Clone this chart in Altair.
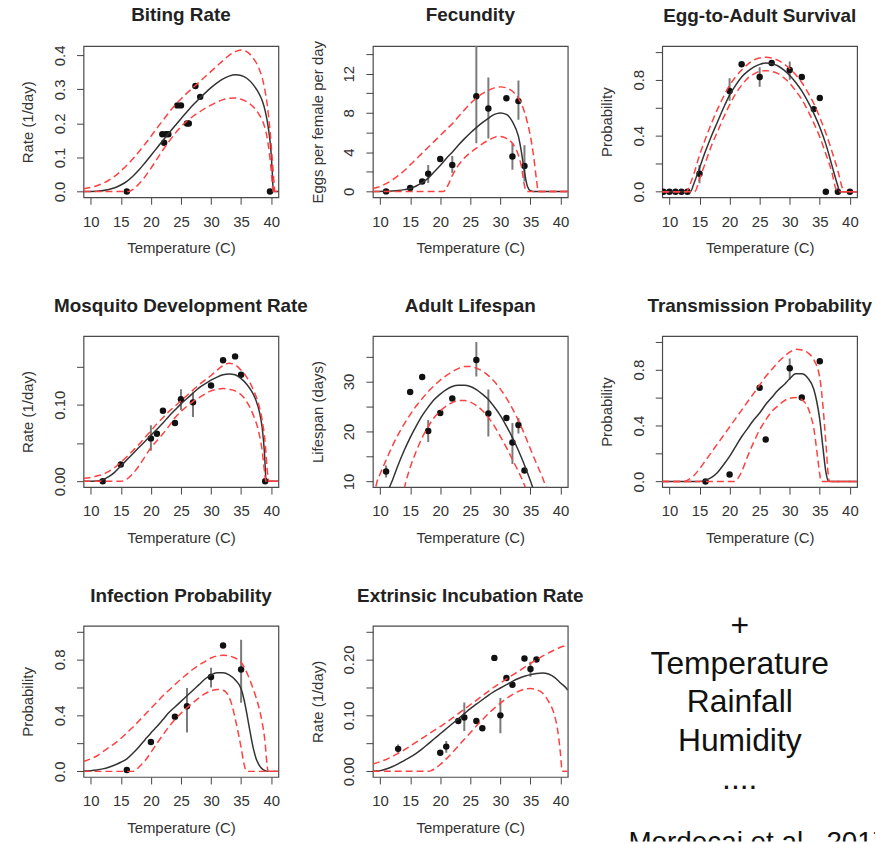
import altair as alt
import pandas as pd

FONT = "Liberation Sans"
INK = "#333333"
RED = "#ff4040"
NAN = float("nan")

TEMP_TICKS = [10, 15, 20, 25, 30, 35, 40]
TEMP_DOMAIN = [8.8, 41.2]

# ---- Biting rate -----------------------------------------------------------
BITE_OBS = [(16, 0.0), (21.9, 0.168), (22.5, 0.168), (22.9, 0.168), (22.2, 0.143),
            (24.4, 0.253), (25.0, 0.253), (26.0, 0.2), (26.3, 0.2), (27.4, 0.31),
            (28.2, 0.278), (39.8, 0.0)]
BITE_MEAN = [(8.8, 0.0), (11, 0.001), (13, 0.006), (14, 0.011), (15, 0.019), (16, 0.03),
             (17, 0.045), (18, 0.063), (19, 0.084), (20, 0.106), (21, 0.128), (22, 0.15),
             (23, 0.172), (24, 0.193), (25, 0.214), (26, 0.234), (27, 0.254), (28, 0.272),
             (29, 0.289), (30, 0.305), (31, 0.319), (32, 0.331), (33, 0.339), (34, 0.343),
             (35, 0.341), (36, 0.332), (37, 0.314), (38, 0.287), (38.5, 0.267), (39, 0.237),
             (39.5, 0.19), (40, 0.11), (40.2, 0.05), (40.35, 0.0), (41.2, 0.0)]
BITE_UPPER = [(8.8, 0.008), (10, 0.012), (11, 0.017), (12, 0.024), (13, 0.033), (14, 0.045),
              (15, 0.06), (16, 0.077), (17, 0.096), (18, 0.117), (19, 0.139), (20, 0.162),
              (21, 0.186), (22, 0.209), (23, 0.232), (24, 0.254), (25, 0.272), (26, 0.289),
              (27, 0.305), (28, 0.321), (29, 0.337), (30, 0.353), (31, 0.369), (32, 0.385),
              (33, 0.4), (34, 0.411), (35, 0.416), (36, 0.41), (37, 0.392), (38, 0.36),
              (38.7, 0.32), (39.3, 0.26), (39.8, 0.18), (40.2, 0.09), (40.5, 0.02),
              (40.6, 0.0), (41.2, 0.0)]
BITE_LOWER = [(8.8, 0.0), (16.3, 0.0), (17, 0.006), (18, 0.022), (19, 0.043), (20, 0.068),
              (21, 0.095), (22, 0.122), (23, 0.147), (24, 0.17), (25, 0.19), (26, 0.207),
              (27, 0.221), (28, 0.233), (29, 0.244), (30, 0.254), (31, 0.263), (32, 0.27),
              (33, 0.274), (34, 0.275), (35, 0.271), (36, 0.263), (37, 0.249), (38, 0.226),
              (38.8, 0.196), (39.4, 0.15), (39.9, 0.08), (40.2, 0.02), (40.3, 0.0),
              (41.2, 0.0)]

# ---- Fecundity -------------------------------------------------------------
FEC_OBS = [(11, 0.0), (15, 0.34), (17, 1.0), (18, 1.8, 0.85, 2.7), (20, 3.3),
           (22, 2.7, 1.9, 3.6), (26, 9.7, 4.9, 15.0), (28, 8.45, 5.4, 11.6), (31, 9.5),
           (32, 3.55, 2.2, 4.9), (33, 9.2, 7.3, 11.3), (34, 2.6, 1.0, 4.7)]
FEC_MEAN = [(8.8, 0.0), (11, 0.02), (12, 0.05), (13, 0.1), (14, 0.18), (15, 0.3), (16, 0.55),
            (17, 0.9), (18, 1.35), (19, 2.0), (20, 2.65), (21, 3.35), (22, 4.0), (23, 4.7),
            (24, 5.35), (25, 5.95), (26, 6.5), (27, 7.0), (28, 7.45), (29, 7.85), (30, 8.0),
            (31, 7.85), (32, 7.1), (33, 5.6), (33.5, 4.0), (34, 2.0), (34.5, 0.5),
            (35, 0.08), (35.5, 0.0), (41.2, 0.0)]
FEC_UPPER = [(8.8, 0.3), (10, 0.5), (11, 0.8), (12, 1.15), (13, 1.6), (14, 2.1), (15, 2.7),
             (16, 3.3), (17, 3.9), (18, 4.5), (19, 5.1), (20, 5.7), (21, 6.3), (22, 6.9),
             (23, 7.6), (24, 8.3), (25, 8.95), (26, 9.5), (27, 9.95), (28, 10.3), (29, 10.55),
             (30, 10.65), (31, 10.55), (32, 10.2), (33, 9.5), (34, 8.1), (34.5, 7.0),
             (35, 5.6), (35.5, 3.7), (36, 1.2), (36.3, 0.0), (41.2, 0.0)]
FEC_LOWER = [(8.8, 0.0), (20.5, 0.0), (21, 0.3), (21.5, 0.9), (22, 1.6), (23, 2.65), (24, 3.4),
             (25, 3.95), (26, 4.4), (27, 4.85), (28, 5.2), (29, 5.5), (29.5, 5.6), (30, 5.6),
             (31, 5.4), (32, 4.9), (32.5, 4.4), (33, 3.7), (33.5, 2.5), (34, 0.6),
             (34.3, 0.0), (41.2, 0.0)]

# ---- Egg-to-adult survival -------------------------------------------------
EGG_OBS = [(9, 0.0), (10, 0.0), (11, 0.0), (12, 0.0), (13, 0.0), (15, 0.128, 0.06, 0.19),
           (20, 0.72, 0.65, 0.81), (22, 0.91), (25, 0.82, 0.75, 0.89), (27, 0.92),
           (30, 0.87, 0.8, 0.93), (32, 0.82), (34, 0.59), (35, 0.67), (36, 0.0),
           (38, 0.0), (40, 0.0)]
EGG_MEAN = [(8.8, 0.0), (13.5, 0.0), (14, 0.05), (15, 0.17), (16, 0.29), (17, 0.4), (18, 0.5),
            (19, 0.6), (20, 0.69), (21, 0.76), (22, 0.82), (23, 0.86), (24, 0.89), (25, 0.91),
            (26, 0.92), (27, 0.915), (28, 0.9), (29, 0.87), (30, 0.83), (31, 0.78), (32, 0.72),
            (33, 0.645), (34, 0.56), (35, 0.46), (36, 0.34), (37, 0.19), (38, 0.04),
            (38.3, 0.0), (41.2, 0.0)]
EGG_UPPER = [(8.8, 0.0), (12.8, 0.0), (13.5, 0.06), (14, 0.12), (15, 0.26), (16, 0.38),
             (17, 0.49), (18, 0.59), (19, 0.68), (20, 0.76), (21, 0.82), (22, 0.87), (23, 0.91),
             (24, 0.94), (25, 0.955), (26, 0.96), (27, 0.955), (28, 0.94), (29, 0.915),
             (30, 0.88), (31, 0.835), (32, 0.78), (33, 0.71), (34, 0.63), (35, 0.53),
             (36, 0.42), (37, 0.29), (38, 0.15), (38.8, 0.02), (39.1, 0.0), (41.2, 0.0)]
EGG_LOWER = [(8.8, 0.0), (14.2, 0.0), (15, 0.09), (16, 0.21), (17, 0.33), (18, 0.43),
             (19, 0.53), (20, 0.62), (21, 0.7), (22, 0.76), (23, 0.81), (24, 0.84), (25, 0.86),
             (26, 0.865), (27, 0.86), (28, 0.845), (29, 0.815), (30, 0.775), (31, 0.72),
             (32, 0.66), (33, 0.58), (34, 0.49), (35, 0.39), (36, 0.27), (37, 0.14),
             (37.6, 0.03), (37.9, 0.0), (41.2, 0.0)]

# ---- Mosquito development rate ---------------------------------------------
MDR_OBS = [(12, 0.0), (15, 0.022), (20, 0.056, 0.04, 0.073), (21, 0.062), (22, 0.092),
           (24, 0.076), (25, 0.107, 0.093, 0.12), (27, 0.103, 0.084, 0.116), (30, 0.125),
           (32, 0.158), (34, 0.163), (35, 0.139), (39, 0.0)]
MDR_MEAN = [(8.8, 0.0), (11, 0.0005), (12, 0.002), (13, 0.006), (14, 0.012), (15, 0.02),
            (16, 0.028), (17, 0.036), (18, 0.044), (19, 0.052), (20, 0.06), (21, 0.068),
            (22, 0.076), (23, 0.085), (24, 0.093), (25, 0.101), (26, 0.108), (27, 0.115),
            (28, 0.122), (29, 0.127), (30, 0.132), (31, 0.136), (32, 0.139), (33, 0.14),
            (34, 0.139), (35, 0.134), (36, 0.126), (37, 0.114), (37.5, 0.105), (38, 0.092),
            (38.5, 0.07), (38.9, 0.035), (39.1, 0.005), (39.2, 0.0), (41.2, 0.0)]
MDR_UPPER = [(8.8, 0.004), (10, 0.005), (11, 0.007), (12, 0.009), (13, 0.013), (14, 0.018),
             (15, 0.025), (16, 0.032), (17, 0.04), (18, 0.048), (19, 0.057), (20, 0.066),
             (21, 0.075), (22, 0.083), (23, 0.091), (24, 0.098), (25, 0.105), (26, 0.112),
             (27, 0.119), (28, 0.126), (29, 0.132), (30, 0.138), (31, 0.145), (32, 0.151),
             (33, 0.154), (34, 0.152), (35, 0.145), (36, 0.135), (37, 0.12), (38, 0.098),
             (38.5, 0.08), (39, 0.05), (39.4, 0.01), (39.6, 0.0), (41.2, 0.0)]
MDR_LOWER = [(8.8, 0.0), (15, 0.0), (16, 0.003), (17, 0.01), (18, 0.02), (19, 0.032),
             (20, 0.044), (21, 0.053), (22, 0.062), (23, 0.072), (24, 0.083), (25, 0.091),
             (26, 0.098), (27, 0.104), (28, 0.109), (29, 0.114), (30, 0.118), (31, 0.12),
             (32, 0.121), (33, 0.12), (34, 0.118), (35, 0.113), (36, 0.103), (37, 0.087),
             (38, 0.062), (38.5, 0.04), (38.9, 0.012), (39.1, 0.0), (41.2, 0.0)]

# ---- Adult lifespan --------------------------------------------------------
LF_OBS = [(11, 12.0, 10.8, 13.2), (15, 27.9), (17, 30.9), (18, 20.1, 17.9, 22.3), (20, 23.7),
          (22, 26.6), (26, 34.3, 31.0, 37.9), (28, 23.6, 19.0, 28.4), (31, 22.7),
          (32, 17.8, 13.5, 21.7), (33, 21.3, 19.6, 22.7), (34, 12.2)]
LF_MEAN = [(11.5, 8.7), (12, 10.1), (13, 13.3), (14, 16.2), (15, 18.8), (16, 21.1), (17, 23.2),
           (18, 24.9), (19, 26.4), (20, 27.5), (21, 28.4), (22, 29.0), (23, 29.25),
           (24, 29.25), (25, 29.0), (26, 28.4), (27, 27.5), (28, 26.4), (29, 24.9), (30, 23.2),
           (31, 21.1), (32, 18.8), (33, 16.2), (34, 13.3), (35, 10.1), (35.5, 8.4)]
LF_UPPER = [(9.3, 9.0), (9.5, 10.0), (10, 11.5), (11, 14.3), (12, 17.0), (13, 19.4), (14, 21.5),
            (15, 23.4), (16, 25.1), (17, 26.6), (18, 28.0), (19, 29.2), (20, 30.3), (21, 31.2),
            (22, 32.0), (23, 32.6), (24, 33.0), (25, 33.0), (26, 32.7), (27, 32.1), (28, 31.2),
            (29, 30.0), (30, 28.5), (31, 26.7), (32, 24.6), (33, 22.2), (34, 19.5), (35, 16.5),
            (36, 13.6), (37, 10.8), (37.6, 8.8)]
LF_LOWER = [(14, 8.5), (14.3, 10.0), (15, 12.8), (16, 16.0), (17, 18.8), (18, 21.0), (19, 22.8),
            (20, 24.1), (21, 25.1), (22, 25.8), (23, 26.2), (24, 26.2), (25, 25.9), (26, 25.2),
            (27, 24.2), (28, 22.8), (29, 21.1), (30, 19.0), (31, 16.8), (32, 14.4), (33, 12.0),
            (34, 9.3), (34.3, 8.3)]

# ---- Transmission probability ----------------------------------------------
TR_OBS = [(16, 0.0), (20, 0.05), (25, 0.67), (26, 0.3), (30, 0.81, 0.73, 0.88), (32, 0.6),
          (35, 0.86)]
TR_MEAN = [(8.8, 0.0), (15, 0.0), (16, 0.01), (17, 0.03), (18, 0.065), (19, 0.12), (20, 0.18),
           (21, 0.25), (22, 0.32), (23, 0.38), (24, 0.44), (25, 0.49), (26, 0.55), (27, 0.6),
           (28, 0.65), (29, 0.69), (30, 0.735), (31, 0.77), (32, 0.77), (33, 0.74), (34, 0.66),
           (34.5, 0.57), (35, 0.44), (35.5, 0.25), (36, 0.07), (36.4, 0.005), (37, 0.0),
           (41.2, 0.0)]
TR_UPPER = [(8.8, 0.0), (12.5, 0.0), (13, 0.01), (14, 0.04), (15, 0.09), (16, 0.15), (17, 0.21),
            (18, 0.27), (19, 0.33), (20, 0.39), (21, 0.45), (22, 0.51), (23, 0.57), (24, 0.63),
            (25, 0.69), (26, 0.75), (27, 0.8), (28, 0.85), (29, 0.89), (30, 0.925), (31, 0.945),
            (32, 0.94), (33, 0.92), (34, 0.87), (35, 0.74), (35.5, 0.55), (36, 0.28),
            (36.4, 0.05), (36.6, 0.0), (41.2, 0.0)]
TR_LOWER = [(8.8, 0.0), (20.8, 0.0), (21.5, 0.03), (22, 0.07), (23, 0.18), (24, 0.28),
            (25, 0.37), (26, 0.44), (27, 0.5), (28, 0.54), (29, 0.575), (30, 0.595), (31, 0.6),
            (32, 0.585), (33, 0.53), (33.5, 0.47), (34, 0.38), (34.5, 0.22), (35, 0.05),
            (35.2, 0.0), (41.2, 0.0)]

# ---- Infection probability -------------------------------------------------
INF_OBS = [(16, 0.01), (20, 0.21), (24, 0.39), (26, 0.465, 0.277, 0.595),
           (30, 0.675, 0.6, 0.74), (32, 0.9), (35, 0.728, 0.49, 0.94)]
INF_MEAN = [(8.8, 0.002), (10, 0.005), (11, 0.01), (12, 0.018), (13, 0.03), (14, 0.046),
            (15, 0.065), (16, 0.09), (17, 0.13), (18, 0.175), (19, 0.225), (20, 0.275),
            (21, 0.32), (22, 0.37), (23, 0.42), (24, 0.46), (25, 0.5), (26, 0.54), (27, 0.58),
            (28, 0.62), (29, 0.66), (30, 0.69), (31, 0.705), (32, 0.705), (33, 0.69),
            (34, 0.655), (35, 0.59), (35.5, 0.51), (36, 0.4), (36.5, 0.28), (37, 0.17),
            (37.5, 0.09), (38, 0.045), (38.5, 0.018), (39, 0.005), (39.5, 0.0), (41.2, 0.0)]
INF_UPPER = [(8.8, 0.07), (10, 0.09), (11, 0.11), (12, 0.14), (13, 0.17), (14, 0.2), (15, 0.235),
             (16, 0.275), (17, 0.315), (18, 0.36), (19, 0.405), (20, 0.45), (21, 0.495),
             (22, 0.54), (23, 0.58), (24, 0.62), (25, 0.66), (26, 0.695), (27, 0.73), (28, 0.76),
             (29, 0.785), (30, 0.81), (31, 0.825), (32, 0.83), (33, 0.825), (34, 0.81),
             (35, 0.78), (36, 0.7), (37, 0.59), (38, 0.45), (38.5, 0.35), (39, 0.2),
             (39.3, 0.05), (39.5, 0.0), (41.2, 0.0)]
INF_LOWER = [(8.8, 0.0), (17, 0.0), (17.5, 0.01), (18, 0.03), (19, 0.075), (20, 0.135),
             (21, 0.2), (22, 0.26), (23, 0.32), (24, 0.37), (25, 0.415), (26, 0.455), (27, 0.49),
             (28, 0.525), (29, 0.555), (30, 0.575), (31, 0.585), (32, 0.58), (33, 0.53),
             (33.5, 0.47), (34, 0.38), (34.5, 0.28), (35, 0.17), (35.5, 0.05), (35.9, 0.0),
             (41.2, 0.0)]

# ---- Extrinsic incubation rate ---------------------------------------------
EIR_OBS = [(13, 0.04, 0.033, 0.048), (20, 0.033), (21, 0.044, 0.033, 0.054), (23, 0.09),
           (24, 0.096, 0.072, 0.123), (26, 0.09), (27, 0.077), (29, 0.203),
           (30, 0.1, 0.068, 0.131), (31, 0.167), (32, 0.155), (34, 0.202),
           (35, 0.183, 0.169, 0.196), (36, 0.2)]
EIR_MEAN = [(8.8, 0.0), (10, 0.001), (11, 0.004), (12, 0.008), (13, 0.013), (14, 0.019),
            (15, 0.025), (16, 0.032), (17, 0.04), (18, 0.049), (19, 0.058), (20, 0.067),
            (21, 0.076), (22, 0.085), (23, 0.094), (24, 0.103), (25, 0.112), (26, 0.12),
            (27, 0.128), (28, 0.136), (29, 0.143), (30, 0.149), (31, 0.155), (32, 0.161),
            (33, 0.166), (34, 0.17), (35, 0.173), (36, 0.175), (37, 0.176), (38, 0.174),
            (39, 0.168), (40, 0.158), (41, 0.148), (41.2, 0.145)]
EIR_UPPER = [(8.8, 0.013), (10, 0.017), (11, 0.021), (12, 0.026), (13, 0.032), (14, 0.038),
             (15, 0.045), (16, 0.052), (17, 0.059), (18, 0.066), (19, 0.073), (20, 0.08),
             (21, 0.087), (22, 0.095), (23, 0.103), (24, 0.111), (25, 0.119), (26, 0.127),
             (27, 0.135), (28, 0.143), (29, 0.151), (30, 0.158), (31, 0.165), (32, 0.172),
             (33, 0.179), (34, 0.186), (35, 0.193), (36, 0.2), (37, 0.206), (38, 0.212),
             (39, 0.217), (40, 0.222), (41, 0.226), (41.2, 0.227)]
EIR_LOWER = [(8.8, 0.0), (18, 0.0), (18.5, 0.001), (19, 0.004), (20, 0.012), (21, 0.022),
             (22, 0.033), (23, 0.045), (24, 0.057), (25, 0.069), (26, 0.081), (27, 0.092),
             (28, 0.103), (29, 0.113), (30, 0.122), (31, 0.13), (32, 0.137), (33, 0.143),
             (34, 0.147), (35, 0.148), (36, 0.146), (37, 0.14), (38, 0.125), (39, 0.1),
             (39.5, 0.075), (40, 0.03), (40.2, 0.005), (40.3, 0.0), (41.2, 0.0)]

# ---- Side note ------------------------------------------------------------
NOTE_LINES = ["+", "Temperature", "Rainfall", "Humidity", "...."]
NOTE_SOURCE = "Mordecai et al., 2017"

PLOT_W, PLOT_H = 196, 152


def label_expr(shown, fmt):
    cond = " || ".join(f"abs(datum.value - ({v})) < 1e-9" for v in shown)
    return f"({cond}) ? format(datum.value, '{fmt}') : ''"


def panel(title, ytitle, ydomain, yticks, ylabeled, yfmt, mean, upper, lower, obs,
          title_offset=5):
    rows = ([(t, v, "mean") for t, v in mean]
            + [(t, v, "upper") for t, v in upper]
            + [(t, v, "lower") for t, v in lower])
    curves = pd.DataFrame(rows, columns=["temp", "value", "curve"])
    pts = pd.DataFrame([o if len(o) == 4 else (o[0], o[1], NAN, NAN) for o in obs],
                       columns=["temp", "value", "lo", "hi"])

    xscale = alt.Scale(domain=TEMP_DOMAIN, nice=False, zero=False)
    yscale = alt.Scale(domain=ydomain, nice=False, zero=False)
    xaxis = alt.Axis(values=TEMP_TICKS, title="Temperature (C)")
    yaxis = alt.Axis(values=yticks, title=ytitle, labelExpr=label_expr(ylabeled, yfmt),
                     titleLimit=400)
    x = alt.X("temp:Q", scale=xscale, axis=xaxis)

    bars = alt.Chart(pts).transform_filter("isValid(datum.lo)").mark_rule(
        color="#7a7a7a", strokeWidth=2, clip=True
    ).encode(x=x, y=alt.Y("lo:Q", scale=yscale, axis=yaxis), y2="hi:Q")

    dots = alt.Chart(pts).mark_circle(size=42, color="#111111", opacity=1, clip=True).encode(
        x=x, y=alt.Y("value:Q", scale=yscale, axis=yaxis)
    )

    mean_line = alt.Chart(curves).transform_filter("datum.curve == 'mean'").mark_line(
        color=INK, strokeWidth=1.5, interpolate="monotone", clip=True
    ).encode(x=x, y=alt.Y("value:Q", scale=yscale, axis=yaxis))

    ci_lines = alt.Chart(curves).transform_filter("datum.curve != 'mean'").mark_line(
        color=RED, strokeWidth=1.5, strokeDash=[7, 4], interpolate="monotone", clip=True
    ).encode(x=x, y=alt.Y("value:Q", scale=yscale, axis=yaxis), detail="curve:N")

    return alt.layer(bars, dots, mean_line, ci_lines).properties(
        width=PLOT_W, height=PLOT_H,
        title=alt.Title(title, fontSize=19, font=FONT, fontWeight="bold", color="#222222",
                        anchor="middle", frame="group", offset=title_offset,
                        baseline="alphabetic"),
    )


PROB_DOMAIN = [-0.04, 1.04]
PROB_TICKS = [0, 0.2, 0.4, 0.6, 0.8, 1.0]
PROB_LABELS = [0, 0.4, 0.8]

p1 = panel("Biting Rate", "Rate (1/day)", [-0.017, 0.427], [0, 0.1, 0.2, 0.3, 0.4],
           [0, 0.1, 0.2, 0.3, 0.4], ".1f", BITE_MEAN, BITE_UPPER, BITE_LOWER, BITE_OBS)
# the long y title of this panel reaches above the plot, so its heading sits closer
p2 = panel("Fecundity", "Eggs per female per day", [-0.6, 14.8], [0, 2, 4, 6, 8, 10, 12, 14],
           [0, 4, 8, 12], "d", FEC_MEAN, FEC_UPPER, FEC_LOWER, FEC_OBS, title_offset=1)
p3 = panel("Egg-to-Adult Survival", "Probability", PROB_DOMAIN, PROB_TICKS, PROB_LABELS, ".1f",
           EGG_MEAN, EGG_UPPER, EGG_LOWER, EGG_OBS)
p4 = panel("Mosquito Development Rate", "Rate (1/day)", [-0.0076, 0.1896],
           [0, 0.05, 0.1, 0.15], [0, 0.1], ".2f", MDR_MEAN, MDR_UPPER, MDR_LOWER, MDR_OBS)
p5 = panel("Adult Lifespan", "Lifespan (days)", [8.88, 39.12], [10, 15, 20, 25, 30, 35],
           [10, 20, 30], "d", LF_MEAN, LF_UPPER, LF_LOWER, LF_OBS)
p6 = panel("Transmission Probability", "Probability", PROB_DOMAIN, PROB_TICKS, PROB_LABELS,
           ".1f", TR_MEAN, TR_UPPER, TR_LOWER, TR_OBS)
p7 = panel("Infection Probability", "Probability", PROB_DOMAIN, PROB_TICKS, PROB_LABELS, ".1f",
           INF_MEAN, INF_UPPER, INF_LOWER, INF_OBS)
p8 = panel("Extrinsic Incubation Rate", "Rate (1/day)", [-0.0104, 0.2604],
           [0, 0.05, 0.1, 0.15, 0.2, 0.25], [0, 0.1, 0.2], ".2f",
           EIR_MEAN, EIR_UPPER, EIR_LOWER, EIR_OBS)

# Side note: factor list plus the source reference, clipped at the page edge
note_df = pd.DataFrame({"line": NOTE_LINES, "row": list(range(len(NOTE_LINES)))})
note_text = alt.Chart(note_df).mark_text(
    font=FONT, fontSize=32, color="#111111", align="center", baseline="alphabetic"
).encode(
    text="line:N",
    x=alt.value(112),
    y=alt.Y("row:Q", scale=alt.Scale(domain=[0, 4], range=[10, 164]), axis=None),
)
source_text = alt.Chart(pd.DataFrame({"src": [NOTE_SOURCE]})).mark_text(
    font=FONT, fontSize=28, color="#111111", align="left", baseline="alphabetic", clip=True
).encode(text="src:N", x=alt.value(0), y=alt.value(226))
note = alt.layer(note_text, source_text).properties(
    width=248, height=217, view=alt.ViewBackground(stroke="transparent")
)

row1 = alt.hconcat(p1, p2, p3, spacing=95, bounds="flush")
row2 = alt.hconcat(p4, p5, p6, spacing=95, bounds="flush")
row3 = alt.hconcat(p7, alt.hconcat(p8, note, spacing=61, bounds="flush"),
                   spacing=95, bounds="flush")

# rows are nested layouts, so the vertical spacing is the full row pitch
chart = alt.vconcat(row1, row2, row3, spacing=291.5, bounds="flush").properties(
    padding={"left": 20, "top": 2, "right": 0, "bottom": 0},
    background="white",
).configure_view(
    stroke="#4a4a4a", strokeWidth=1.2
).configure_axis(
    labelFont=FONT, titleFont=FONT, labelFontSize=15, titleFontSize=15,
    titleFontWeight="normal", labelColor=INK, titleColor=INK, tickColor="#444444",
    tickSize=7, tickWidth=1, domain=False, grid=False, labelFlush=False, labelOverlap=False,
).configure_axisX(
    labelPadding=10, titlePadding=12
).configure_axisY(
    labelAngle=-90, labelAlign="center", labelBaseline="bottom", labelPadding=9,
    titlePadding=17,
)

chart.save("out.html", embed_options={"renderer": "svg", "actions": False})
